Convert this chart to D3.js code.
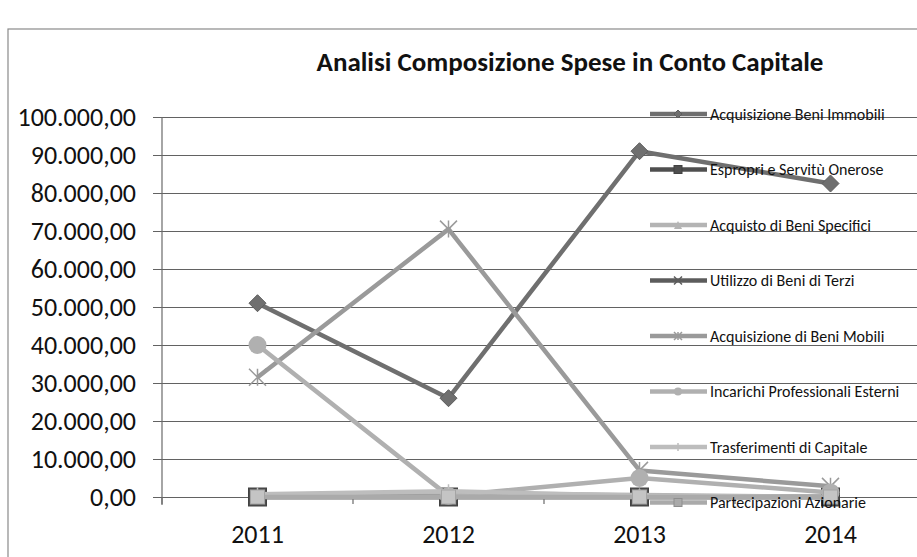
<!DOCTYPE html>
<html>
<head>
<meta charset="utf-8">
<script src="https://cdn.jsdelivr.net/npm/d3@7"></script>
<style>
  body { margin: 0; background: #fff; }
  text { font-family: Carlito, Calibri, "Liberation Sans Narrow", "Open Sans", sans-serif; fill: #111; }
</style>
</head>
<body>
<script>
var years = ["2011", "2012", "2013", "2014"];
var seriesNames = [
  "Acquisizione Beni Immobili",
  "Espropri e Servitù Onerose",
  "Acquisto di Beni Specifici",
  "Utilizzo di Beni di Terzi",
  "Acquisizione di Beni Mobili",
  "Incarichi Professionali Esterni",
  "Trasferimenti di Capitale",
  "Partecipazioni Azionarie"
];
var beniImmobili   = [51000, 26000, 91000, 82500];
var espropri       = [0, 0, 0, 0];
var beniSpecifici  = [200, 1000, 500, 0];
var beniTerzi      = [0, 0, 0, 0];
var beniMobili     = [31500, 70500, 7000, 2800];
var incarichi      = [40000, 300, 5000, 1200];
var trasferimenti  = [700, 1500, 300, 0];
var partecipazioni = [0, 0, 0, 0];
var yTicks = [0, 10000, 20000, 30000, 40000, 50000, 60000, 70000, 80000, 90000, 100000];

var allValues = [beniImmobili, espropri, beniSpecifici, beniTerzi, beniMobili, incarichi, trasferimenti, partecipazioni];
var colors  = ["#6f6f6f", "#4f4f4f", "#b4b4b4", "#5c5c5c", "#9a9a9a", "#b0b0b0", "#bdbdbd", "#aaaaaa"];
var markers = ["diamond", "square", "triangle", "x", "star", "circle", "plus", "square"];

var width = 917, height = 557;
var svg = d3.select("body").append("svg")
    .attr("width", width)
    .attr("height", height);

// chart border
svg.append("rect")
    .attr("x", 8).attr("y", 29)
    .attr("width", width).attr("height", height)
    .attr("fill", "none").attr("stroke", "#8a8a8a").attr("stroke-width", 1.2);

var x = d3.scaleBand().domain(years).range([162, 926]);
var y = d3.scaleLinear().domain([0, 100000]).range([497, 117]);
var cx = function(d) { return x(d) + x.bandwidth() / 2; };

var it = d3.formatLocale({decimal: ",", thousands: ".", grouping: [3], currency: ["€", ""]});
var fmt = it.format(",.2f");

// gridlines
svg.append("g")
    .attr("transform", "translate(153,0)")
    .call(d3.axisRight(y).tickValues(yTicks).tickSize(width - 153).tickFormat(""))
    .call(function(g) { g.select(".domain").remove(); })
    .selectAll("line").attr("stroke", "#626262").attr("stroke-width", 1.2);

// y labels
svg.append("g")
    .attr("transform", "translate(162,0)")
    .call(d3.axisLeft(y).tickValues(yTicks).tickSize(0).tickPadding(26).tickFormat(fmt))
    .call(function(g) { g.select(".domain").remove(); })
    .selectAll("text").style("font-size", "26px").attr("fill", "#111");

// y axis line
svg.append("line")
    .attr("x1", 162).attr("x2", 162).attr("y1", y(100000)).attr("y2", y(0) + 8)
    .attr("stroke", "#6a6a6a").attr("stroke-width", 1.2);

// x axis
svg.append("g")
    .attr("transform", "translate(0," + y(0) + ")")
    .call(d3.axisBottom(x).tickSize(0).tickPadding(28))
    .call(function(g) { g.select(".domain").remove(); })
    .selectAll("text").style("font-size", "26px").attr("fill", "#111");

svg.selectAll(".xtick")
    .data(years)
    .enter().append("line")
    .attr("x1", function(d) { return x(d); }).attr("x2", function(d) { return x(d); })
    .attr("y1", y(0)).attr("y2", y(0) + 7)
    .attr("stroke", "#6a6a6a").attr("stroke-width", 1.2);

function drawMarker(g, type, color, size) {
  var s = size / 2;
  if (type == "diamond") {
    g.append("path").attr("d", "M0," + (-s) + "L" + s + ",0L0," + s + "L" + (-s) + ",0Z")
      .attr("fill", color).attr("stroke", d3.color(color).darker(0.5));
  } else if (type == "square") {
    g.append("rect").attr("x", -s).attr("y", -s).attr("width", size).attr("height", size)
      .attr("fill", color).attr("stroke", d3.color(color).darker(0.5));
  } else if (type == "triangle") {
    g.append("path").attr("d", "M0," + (-s) + "L" + s + "," + s + "L" + (-s) + "," + s + "Z")
      .attr("fill", color);
  } else if (type == "circle") {
    g.append("circle").attr("r", s).attr("fill", color);
  } else if (type == "x") {
    g.append("path").attr("d", "M" + (-s) + "," + (-s) + "L" + s + "," + s + "M" + s + "," + (-s) + "L" + (-s) + "," + s)
      .attr("stroke", color).attr("stroke-width", 1.5);
  } else if (type == "star") {
    g.append("path").attr("d", "M" + (-s) + "," + (-s) + "L" + s + "," + s + "M" + s + "," + (-s) + "L" + (-s) + "," + s + "M0," + (-s) + "L0," + s)
      .attr("stroke", color).attr("stroke-width", 1.5);
  } else if (type == "plus") {
    g.append("path").attr("d", "M0," + (-s) + "L0," + s + "M" + (-s) + ",0L" + s + ",0")
      .attr("stroke", color).attr("stroke-width", 1.5);
  }
}

var line = d3.line()
    .x(function(d, i) { return cx(years[i]); })
    .y(function(d) { return y(d); });

var sizes = [17, 18, 14, 14, 17, 18, 14, 14];

allValues.forEach(function(vals, k) {
  svg.append("path")
      .attr("d", line(vals))
      .attr("fill", "none")
      .attr("stroke", colors[k])
      .attr("stroke-width", 4.5)
      .attr("stroke-linejoin", "round");
  vals.forEach(function(v, i) {
    var g = svg.append("g").attr("transform", "translate(" + cx(years[i]) + "," + y(v) + ")");
    drawMarker(g, markers[k], k == 7 ? "#c4c4c4" : colors[k], sizes[k]);
  });
});

// legend
var legend = svg.selectAll(".legend")
    .data(seriesNames)
    .enter().append("g")
    .attr("transform", function(d, i) { return "translate(650," + (114 + i * 55.5) + ")"; });

legend.append("line")
    .attr("x1", 0).attr("x2", 57)
    .attr("stroke", function(d, i) { return colors[i]; })
    .attr("stroke-width", 4.5);

legend.each(function(d, i) {
  drawMarker(d3.select(this).append("g").attr("transform", "translate(28,0)"), markers[i], colors[i], 8);
});

legend.append("text")
    .attr("x", 60).attr("dy", "0.35em")
    .style("font-size", "16px")
    .text(function(d) { return d; });

// title
svg.append("text")
    .attr("x", 570).attr("y", 71)
    .attr("text-anchor", "middle")
    .style("font-size", "27px").style("font-weight", "bold")
    .text("Analisi Composizione Spese in Conto Capitale");
</script>
</body>
</html>
